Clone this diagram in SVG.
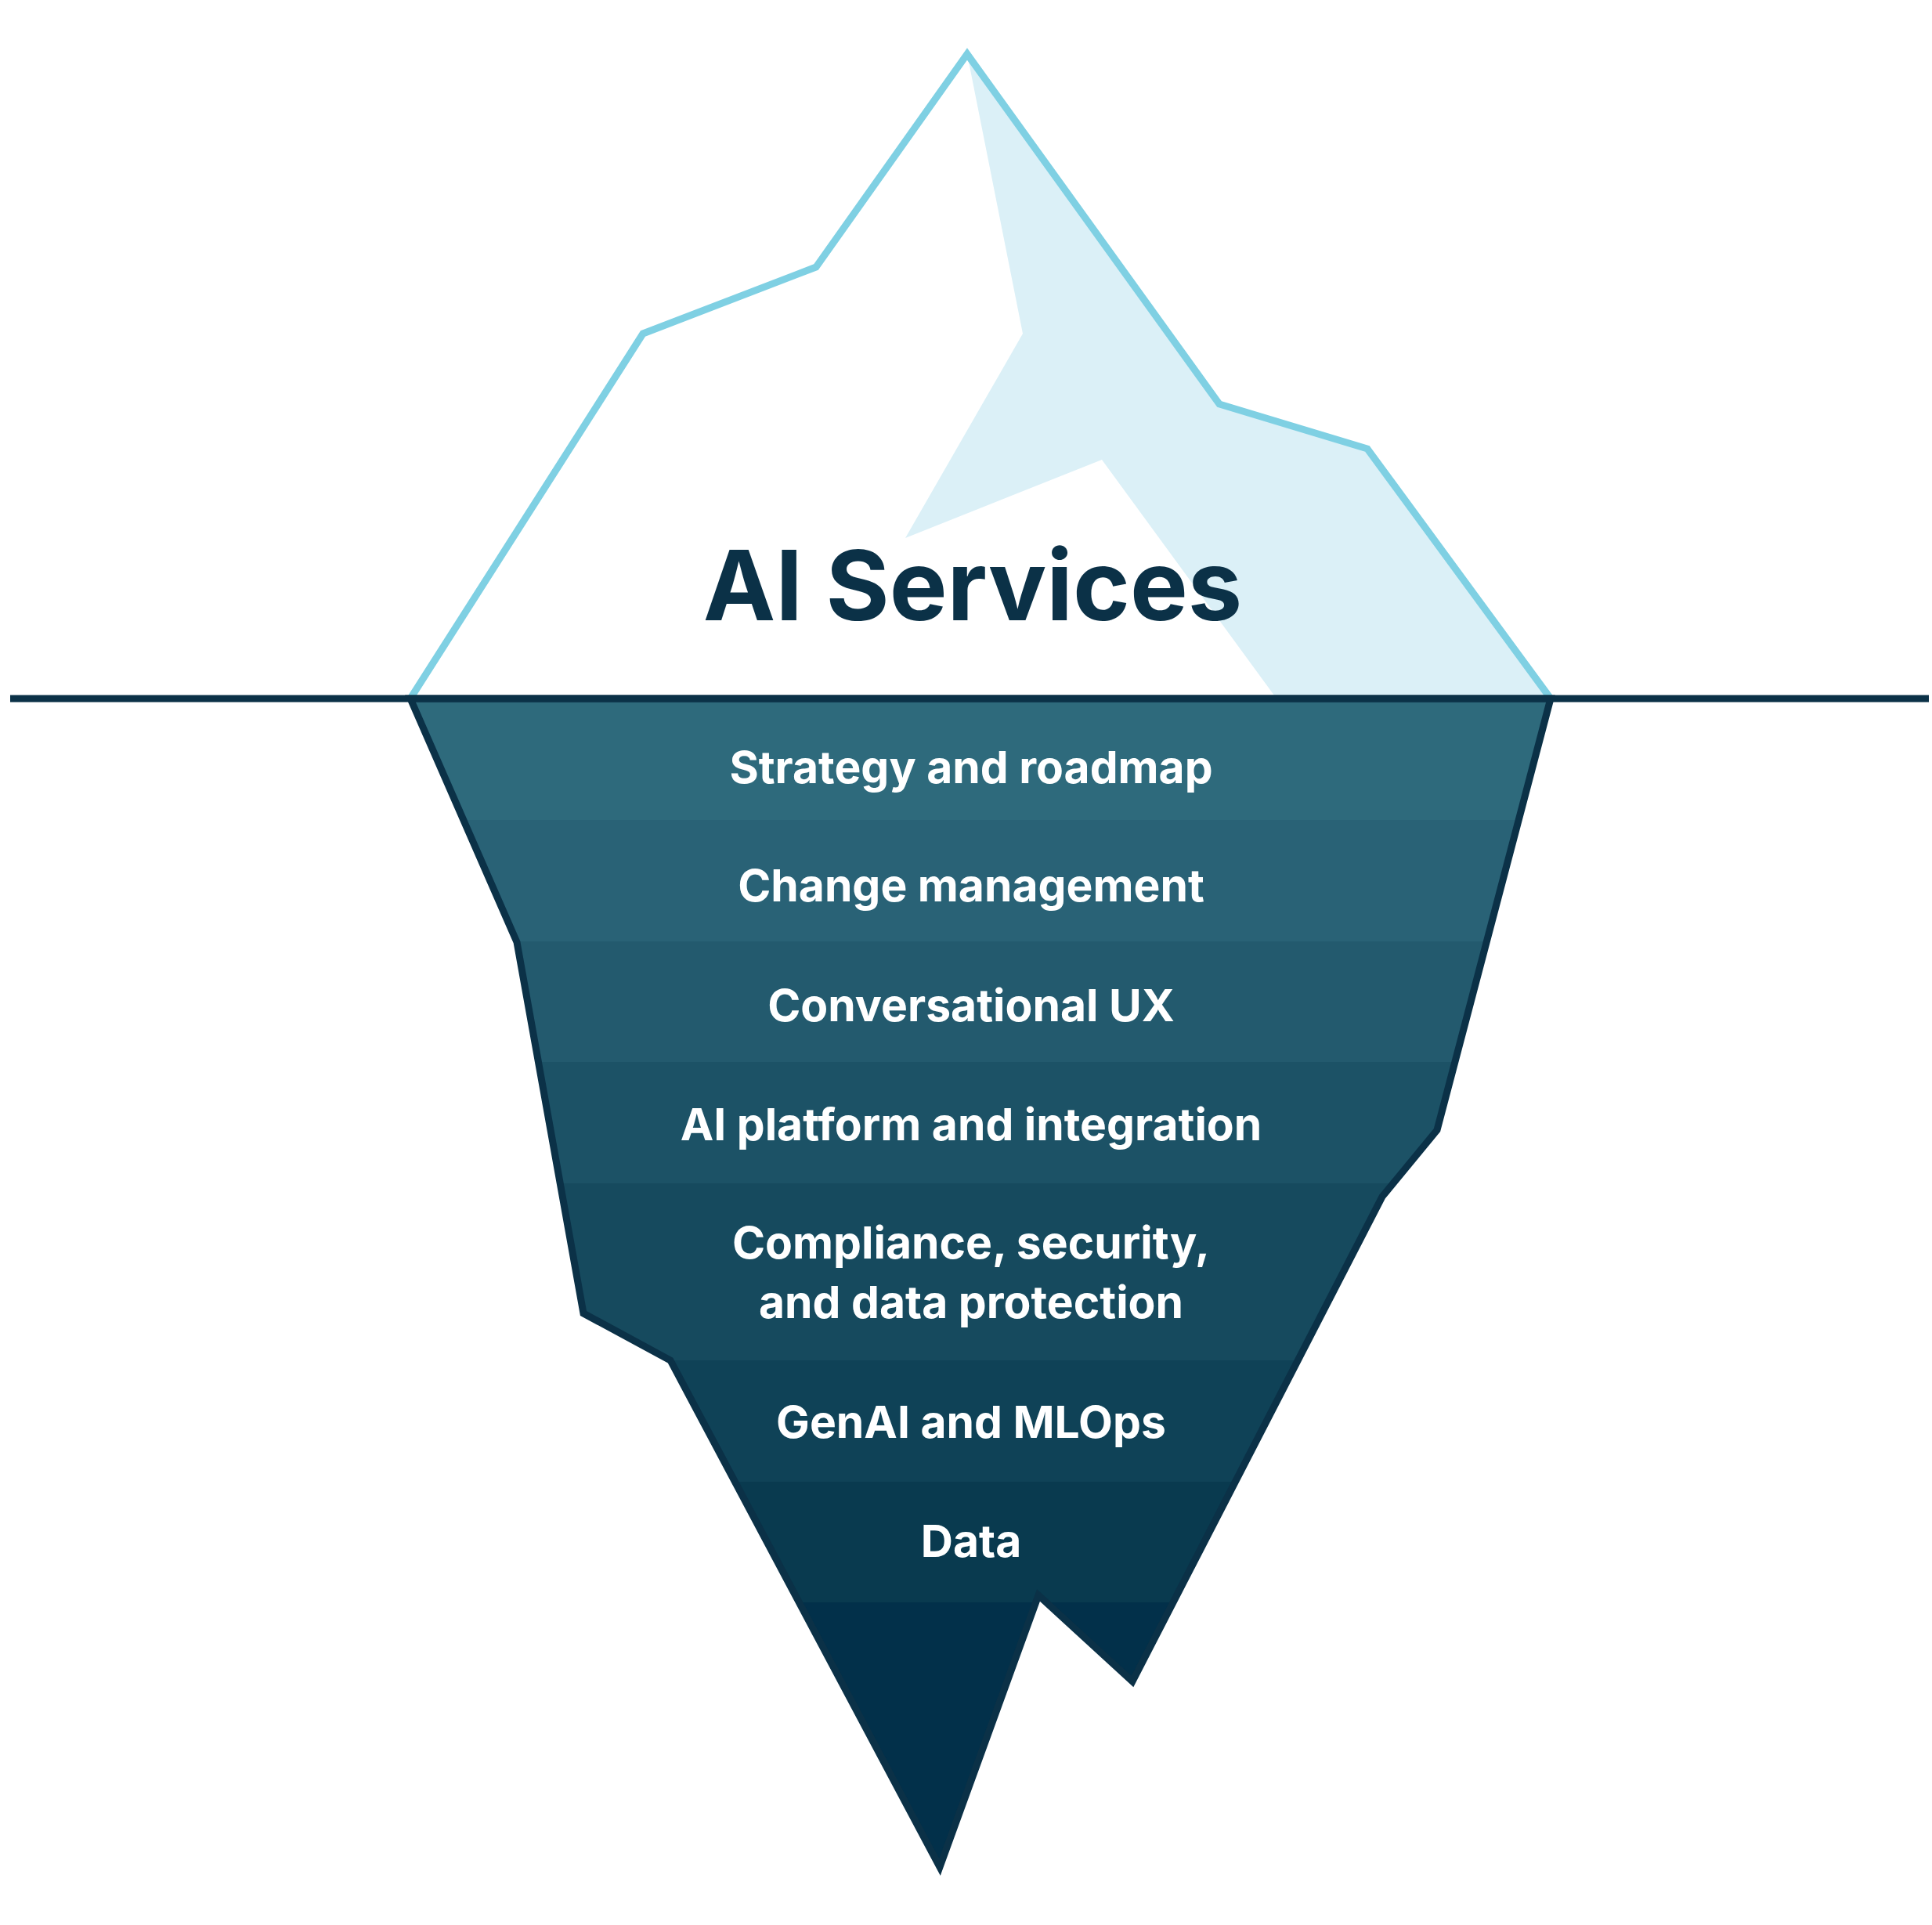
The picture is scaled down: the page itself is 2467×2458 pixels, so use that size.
<svg xmlns="http://www.w3.org/2000/svg" width="2467" height="2458" viewBox="0 0 2467 2458">
<style>
.lbl{font-family:Inter,"Liberation Sans",sans-serif;font-weight:700;font-size:57px;fill:#ffffff;text-anchor:middle}
.ttl{font-family:Inter,"Liberation Sans",sans-serif;font-weight:700;font-size:124px;fill:#0b3147;text-anchor:middle}
</style>
<defs>
<clipPath id="under"><polygon points="524,892 660,1203 745,1677 856,1737 1200,2384 1326,2037 1446,2147 1765,1528 1835,1443 1980,892"/></clipPath>
</defs>
<rect width="2467" height="2458" fill="#ffffff"/>
<g id="tip">
<polygon points="1235,69 1306,426 1156,687 1407,587 1630,892 1980,892 1746,573 1557,516" fill="#dbf0f7"/>
<polyline points="524,892 821,426 1042,341 1235,69 1557,516 1746,573 1980,892" fill="none" stroke="#7fd0e3" stroke-width="9" stroke-linejoin="miter"/>
<text class="ttl" x="1242" y="792">AI Services</text>
</g>
<g id="bands" clip-path="url(#under)">
<rect x="500" y="892" width="1500" height="155" fill="#2e6a7c"/>
<rect x="500" y="1047" width="1500" height="155" fill="#296276"/>
<rect x="500" y="1202" width="1500" height="154" fill="#235a6e"/>
<rect x="500" y="1356" width="1500" height="155" fill="#1c5266"/>
<rect x="500" y="1511" width="1500" height="226" fill="#164a5e"/>
<rect x="500" y="1737" width="1500" height="155" fill="#0f4257"/>
<rect x="500" y="1892" width="1500" height="154" fill="#093a4f"/>
<rect x="500" y="2046" width="1500" height="350" fill="#02304a"/>
</g>
<g id="outline">
<polygon points="524,892 660,1203 745,1677 856,1737 1200,2384 1326,2037 1446,2147 1765,1528 1835,1443 1980,892" fill="none" stroke="#0b3147" stroke-width="9"/>
</g>
<g id="connectors">
<line x1="13" y1="892" x2="2463" y2="892" stroke="#0b3147" stroke-width="9"/>
</g>
<g id="labels">
<text class="lbl" x="1240" y="1000">Strategy and roadmap</text>
<text class="lbl" x="1240" y="1151">Change management</text>
<text class="lbl" x="1240" y="1304">Conversational UX</text>
<text class="lbl" x="1240" y="1456">AI platform and integration</text>
<text class="lbl" x="1240" y="1607">Compliance, security,</text>
<text class="lbl" x="1240" y="1683">and data protection</text>
<text class="lbl" x="1240" y="1836">GenAI and MLOps</text>
<text class="lbl" x="1240" y="1988">Data</text>
</g>
</svg>
